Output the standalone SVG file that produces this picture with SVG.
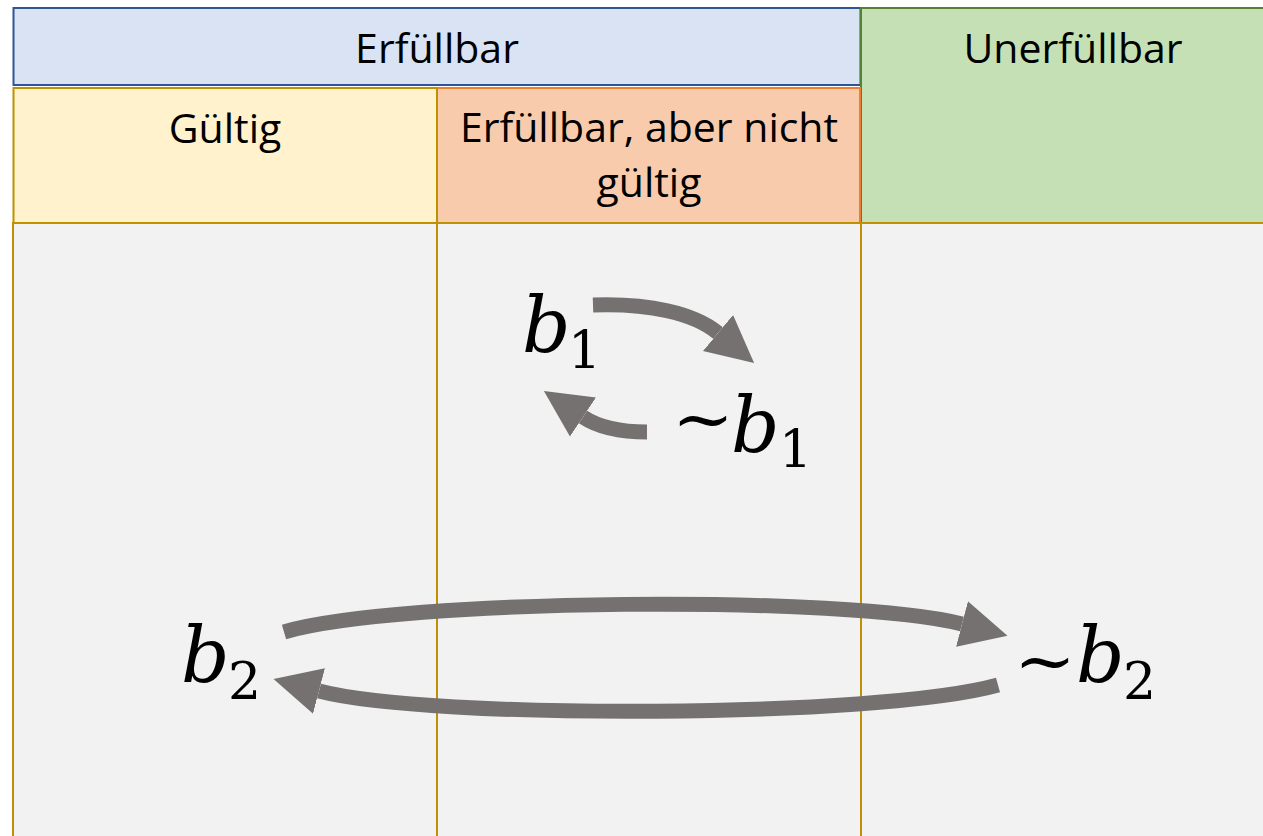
<svg xmlns="http://www.w3.org/2000/svg" width="1263" height="836" viewBox="0 0 1263 836">
  <defs>
    <style>
      .hdr { font-family: "Open Sans", "Liberation Sans", sans-serif; font-size: 41px; fill: #000; text-anchor: middle; }
      .mi { font-family: "DejaVu Serif", "Liberation Serif", serif; font-style: italic; font-size: 76px; fill: #000; }
      .mn { font-family: "DejaVu Serif", "Liberation Serif", serif; font-size: 52px; fill: #000; }
      .tl { font-family: "DejaVu Serif", "Liberation Serif", serif; font-size: 68px; fill: #000; }
      .cell { fill: #F2F2F2; stroke: #BF9000; stroke-width: 2; }
      .arr { fill: none; stroke: #767171; stroke-width: 15; marker-end: url(#head); }
    </style>
    <marker id="head" markerUnits="userSpaceOnUse" markerWidth="48" markerHeight="48" viewBox="0 -24 48 48" refX="0" refY="0" orient="auto">
      <path d="M0,-23.5 L47,0 L0,23.5 Z" fill="#767171"/>
    </marker>
  </defs>

  <rect x="0" y="0" width="1263" height="836" fill="#FFFFFF"/>

  <g id="cell-gueltig-body"><rect class="cell" x="13" y="223" width="424" height="640"/></g>
  <g id="cell-erfuellbar-body"><rect class="cell" x="437" y="223" width="424" height="640"/></g>
  <g id="cell-unerfuellbar-body"><rect class="cell" x="861" y="223" width="424" height="640"/></g>

  <g id="erfuellbar">
    <rect x="13.5" y="8" width="847" height="77" fill="#DAE3F3" stroke="#2F5597" stroke-width="2"/>
    <text class="hdr" x="437" y="63">Erfüllbar</text>
  </g>
  <g id="unerfuellbar">
    <rect x="861" y="8" width="424" height="215" fill="#C5E0B4" stroke="#548235" stroke-width="2"/>
    <text class="hdr" x="1073" y="63">Unerfüllbar</text>
  </g>
  <g id="erfuellbar-nicht-gueltig">
    <rect x="437" y="88" width="423" height="135" fill="#F8CBAD" stroke="#ED7D31" stroke-width="2"/>
    <text class="hdr" x="649" y="142">Erfüllbar, aber nicht</text>
    <text class="hdr" x="649" y="197">gültig</text>
  </g>
  <g id="gueltig">
    <rect x="13.5" y="88" width="423.5" height="135" fill="#FFF2CC" stroke="#BF9000" stroke-width="2"/>
    <text class="hdr" x="225" y="143">Gültig</text>
  </g>
  <line x1="13" y1="223" x2="1263" y2="223" stroke="#BF9000" stroke-width="2"/>

  <g id="connectors">
    <path class="arr" d="M593,305 C648,303 694,313 718,333"/>
    <path class="arr" d="M647,432 C618,432 598,427 583,417"/>
    <path class="arr" d="M284,632 C400,598 850,595 962,624"/>
    <path class="arr" d="M998,685 C880,718 430,720 319,691"/>
  </g>

  <g id="b1">
    <text class="mi" x="522" y="352">b</text>
    <text class="mn" x="568" y="368">1</text>
  </g>
  <g id="not-b1">
    <text class="tl" x="672" y="442" textLength="62" lengthAdjust="spacingAndGlyphs">~</text>
    <text class="mi" x="731" y="452">b</text>
    <text class="mn" x="779" y="467">1</text>
  </g>
  <g id="b2">
    <text class="mi" x="181" y="682">b</text>
    <text class="mn" x="228" y="699">2</text>
  </g>
  <g id="not-b2">
    <text class="tl" x="1014" y="684" textLength="62" lengthAdjust="spacingAndGlyphs">~</text>
    <text class="mi" x="1076" y="682">b</text>
    <text class="mn" x="1123" y="699">2</text>
  </g>
</svg>
